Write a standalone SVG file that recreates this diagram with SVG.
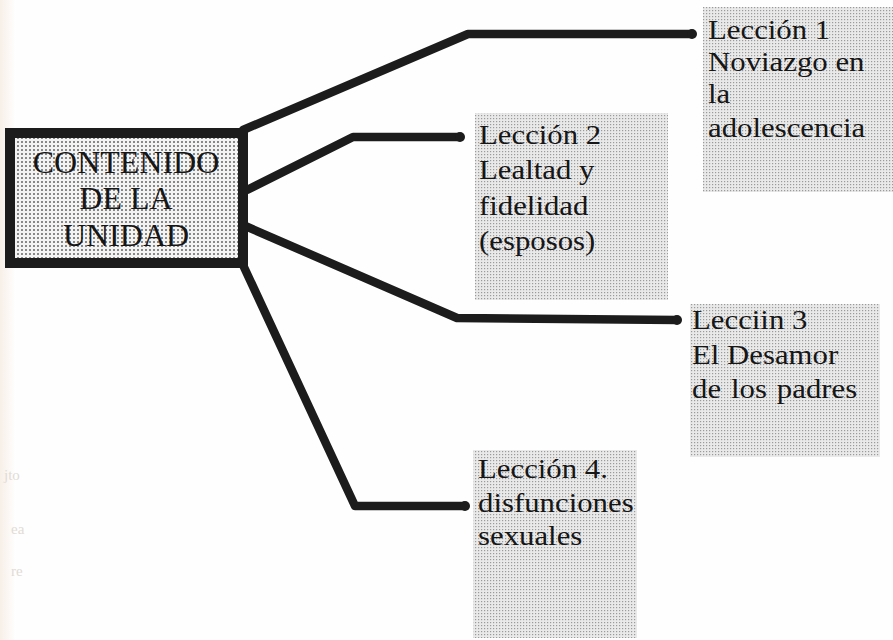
<svg xmlns="http://www.w3.org/2000/svg" width="893" height="640" viewBox="0 0 893 640">
<defs>
  <pattern id="fine" width="3" height="3" patternUnits="userSpaceOnUse">
    <rect width="3" height="3" fill="#e9e9e9"/>
    <rect x="1" y="1" width="1.2" height="1.2" fill="#9a9a9a"/>
  </pattern>
  <pattern id="coarse" width="4" height="4" patternUnits="userSpaceOnUse">
    <rect width="4" height="4" fill="#f3f3f3"/>
    <circle cx="2" cy="2" r="0.95" fill="#5a5a5a"/>
  </pattern>
  <linearGradient id="edge" x1="0" x2="1" y1="0" y2="0">
    <stop offset="0" stop-color="#f7efe8"/>
    <stop offset="1" stop-color="#ffffff"/>
  </linearGradient>
</defs>
<style>
  .lbl { font-family: "Liberation Serif", "Times New Roman", serif; font-size: 27.5px; fill: #161616; }
  .main { font-family: "Liberation Serif", "Times New Roman", serif; font-size: 32px; fill: #161616; text-anchor: middle; }
  .conn { fill: none; stroke: #1c1c1c; stroke-width: 8.5; stroke-linecap: round; stroke-linejoin: round; }
  .dot { fill: #1c1c1c; }
  .box { fill: url(#fine); }
  .ghost { font-family: "Liberation Serif", serif; font-size: 15px; fill: #e2dbd5; }
</style>
<rect width="893" height="640" fill="#fefefe"/>
<rect width="16" height="640" fill="url(#edge)"/>

<g id="ghost-text">
  <text class="ghost" x="4" y="480">jto</text>
  <text class="ghost" x="11" y="534">ea</text>
  <text class="ghost" x="11" y="576">re</text>
</g>

<g id="connectors">
  <polyline class="conn" points="243,130 468,34 692,34"/>
  <polyline class="conn" points="247,190 353,137 460,137"/>
  <polyline class="conn" points="243,225 457,318 677,320"/>
  <polyline class="conn" points="243,265 355,506 465,506"/>
  <circle class="dot" cx="692" cy="34" r="5"/>
  <circle class="dot" cx="460" cy="137" r="5"/>
  <circle class="dot" cx="677" cy="320" r="5"/>
  <circle class="dot" cx="465" cy="506" r="5"/>
</g>

<g id="node-contenido">
  <rect x="10" y="133" width="233" height="130" fill="url(#coarse)" stroke="#1c1c1c" stroke-width="10"/>
  <text class="main" x="126" y="173">CONTENIDO</text>
  <text class="main" x="126" y="209">DE LA</text>
  <text class="main" x="126" y="246">UNIDAD</text>
</g>

<g id="node-leccion1">
  <rect class="box" x="703" y="7" width="190" height="185"/>
  <g transform="translate(708,0) scale(1.12,1)">
    <text class="lbl" x="0" y="39">Lección 1</text>
    <text class="lbl" x="0" y="71">Noviazgo en</text>
    <text class="lbl" x="0" y="103">la</text>
    <text class="lbl" x="0" y="137">adolescencia</text>
  </g>
</g>

<g id="node-leccion2">
  <rect class="box" x="475" y="113" width="193" height="187"/>
  <g transform="translate(479,0) scale(1.12,1)">
    <text class="lbl" x="0" y="144">Lección 2</text>
    <text class="lbl" x="0" y="179">Lealtad y</text>
    <text class="lbl" x="0" y="215">fidelidad</text>
    <text class="lbl" x="0" y="250">(esposos)</text>
  </g>
</g>

<g id="node-leccion3">
  <rect class="box" x="690" y="304" width="190" height="153"/>
  <g transform="translate(692,0) scale(1.12,1)">
    <text class="lbl" x="0" y="329">Lecciin 3</text>
    <text class="lbl" x="0" y="364">El Desamor</text>
    <text class="lbl" x="0" y="398" word-spacing="2">de los padres</text>
  </g>
</g>

<g id="node-leccion4">
  <rect class="box" x="473" y="450" width="164" height="188"/>
  <g transform="translate(478,0) scale(1.12,1)">
    <text class="lbl" x="0" y="478">Lección 4.</text>
    <text class="lbl" x="0" y="512">disfunciones</text>
    <text class="lbl" x="0" y="545">sexuales</text>
  </g>
</g>
</svg>
